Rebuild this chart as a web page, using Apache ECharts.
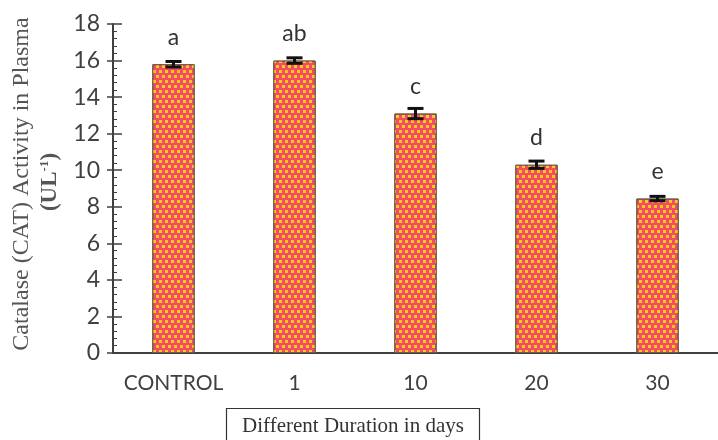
<!DOCTYPE html>
<html><head><meta charset="utf-8">
<script src="https://cdn.jsdelivr.net/npm/echarts@6/dist/echarts.min.js"></script>
<style>html,body{margin:0;padding:0;background:#fff}#c{width:718px;height:440px}</style>
</head><body><div id="c"></div>
<script>
var categories = ['CONTROL', '1', '10', '20', '30'];
var means = [15.8, 16.0, 13.1, 10.3, 8.45];
var errors = [0.15, 0.15, 0.28, 0.2, 0.12];
var letters = ['a', 'ab', 'c', 'd', 'e'];
var yTicks = [0, 18, 2];

var chart = echarts.init(document.getElementById('c'));
var sans = 'Lato, "Open Sans", sans-serif';
var serif = '"Liberation Serif", "DejaVu Serif", serif';
var axisCol = '#404040';

var errData = means.map(function (m, i) { return [i, m, errors[i], letters[i]]; });

chart.setOption({
  animation: false,
  grid: { left: 113, top: 24, width: 612, height: 329, containLabel: false },
  xAxis: [{
    type: 'category', data: categories, position: 'bottom',
    axisLine: { lineStyle: { color: axisCol, width: 2 } },
    axisTick: { alignWithLabel: true, length: 5, inside: false, lineStyle: { color: axisCol, width: 1.5 } },
    axisLabel: { color: axisCol, fontFamily: sans, fontSize: 21, margin: 20, interval: 0 }
  }, {
    type: 'category', data: categories, position: 'bottom',
    axisLine: { show: false },
    axisTick: { alignWithLabel: false, length: 9, inside: true, interval: 0, lineStyle: { color: axisCol, width: 1.5 } },
    axisLabel: { show: false }
  }],
  yAxis: [{
    type: 'value', min: yTicks[0], max: yTicks[1], interval: yTicks[2],
    splitLine: { show: false },
    axisLine: { show: true, lineStyle: { color: axisCol, width: 2 } },
    axisTick: { show: true, inside: true, length: 9, lineStyle: { color: axisCol, width: 1.5 } },
    minorTick: { show: true, splitNumber: 5, length: 4, lineStyle: { color: axisCol, width: 1 } },
    axisLabel: { color: axisCol, fontFamily: sans, fontSize: 23, margin: 13 }
  }, {
    type: 'value', min: yTicks[0], max: yTicks[1], interval: yTicks[2], position: 'left',
    splitLine: { show: false },
    axisLine: { show: false },
    axisTick: { show: true, inside: false, length: 6, lineStyle: { color: axisCol, width: 1.5 } },
    axisLabel: { show: false }
  }],
  series: [{
    type: 'bar', data: means, barWidth: '35%',
    itemStyle: {
      color: '#F24C68', borderColor: '#6b5a4a', borderWidth: 1,
      decal: {
        symbol: 'rect', symbolSize: 1, color: '#FFCC10',
        dashArrayX: [[3, 3], [0, 3, 3, 0]], dashArrayY: [3, 1.5], rotation: 0
      }
    },
    z: 2
  }, {
    type: 'custom', data: errData, z: 5,
    renderItem: function (params, api) {
      var x = api.value(0), m = api.value(1), e = api.value(2);
      var top = api.coord([x, m + e]);
      var bot = api.coord([x, m - e]);
      var cw = 8;
      return {
        type: 'group', children: [
          { type: 'line', shape: { x1: top[0], y1: top[1], x2: bot[0], y2: bot[1] }, style: { stroke: '#111', lineWidth: 3 } },
          { type: 'line', shape: { x1: top[0] - cw, y1: top[1], x2: top[0] + cw, y2: top[1] }, style: { stroke: '#111', lineWidth: 3 } },
          { type: 'line', shape: { x1: bot[0] - cw, y1: bot[1], x2: bot[0] + cw, y2: bot[1] }, style: { stroke: '#111', lineWidth: 3 } },
          { type: 'text', style: { x: top[0], y: api.coord([x, m])[1] - 27, text: letters[params.dataIndex], fill: '#333', font: '23px ' + sans, textAlign: 'center', textVerticalAlign: 'middle' } }
        ]
      };
    }
  }],
  graphic: [{
    type: 'text', x: 22, y: 184, rotation: Math.PI / 2,
    style: { text: 'Catalase (CAT) Activity in Plasma', fill: '#555', font: '24px ' + serif, textAlign: 'center', textVerticalAlign: 'middle' }
  }, {
    type: 'text', x: 50, y: 182, rotation: Math.PI / 2,
    style: {
      text: '{b|(UL}{s|-1}{b|)}', textAlign: 'center', textVerticalAlign: 'middle',
      rich: {
        b: { fill: '#555', font: 'bold 23px ' + serif },
        s: { fill: '#555', font: 'bold 13px ' + serif, verticalAlign: 'top', padding: [0, 0, 8, 0] }
      }
    }
  }, {
    type: 'rect', shape: { x: 226.5, y: 408.5, width: 253, height: 34 },
    style: { fill: '#fff', stroke: '#333', lineWidth: 1.2 }
  }, {
    type: 'text', x: 353, y: 426,
    style: { text: 'Different Duration in days', fill: '#333', font: '21px ' + serif, textAlign: 'center', textVerticalAlign: 'middle' }
  }]
});
</script>
</body></html>
